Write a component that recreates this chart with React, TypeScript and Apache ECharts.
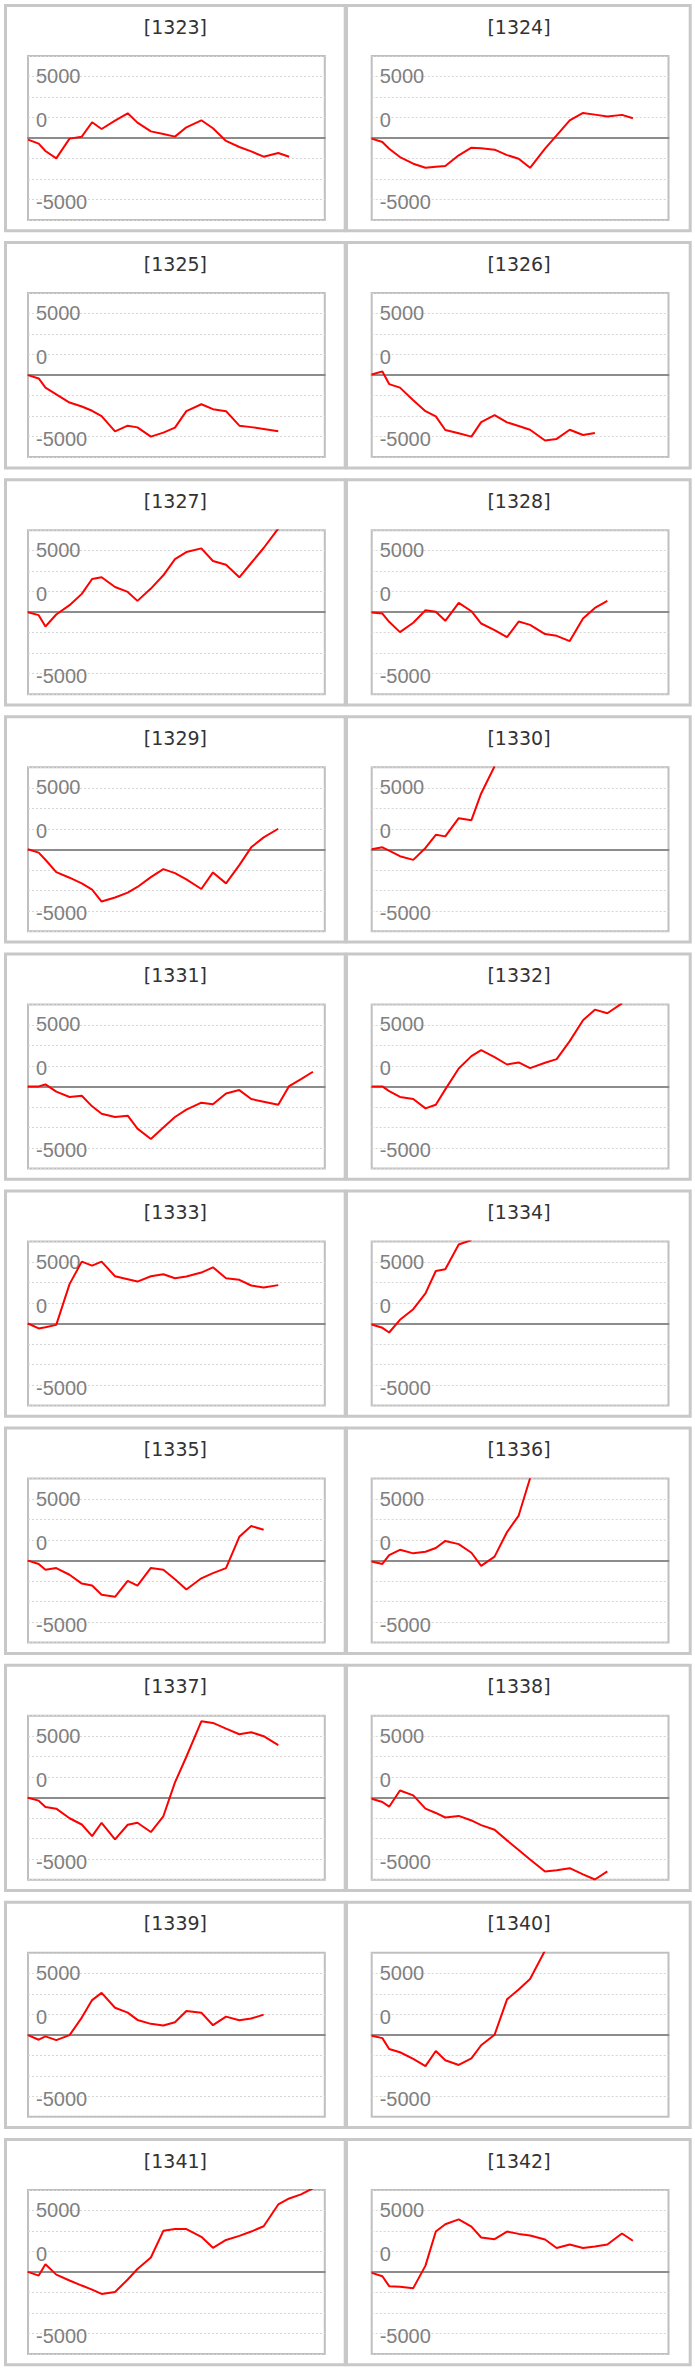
import React, { useEffect, useRef } from "react";
import * as echarts from "echarts";

// ---- data ----
const codes = [
  "1323", "1324", "1325", "1326", "1327", "1328", "1329", "1330", "1331", "1332",
  "1333", "1334", "1335", "1336", "1337", "1338", "1339", "1340", "1341", "1342",
];

// sample times (shared by every panel)
const sampleDays = [
  0, 0.9, 1.47, 2.38, 3.5, 4.53, 5.4, 6.2, 7.33, 8.4, 9.22, 10.35, 11.4, 12.38,
  13.34, 14.6, 15.58, 16.68, 17.8, 18.8, 19.85, 21.08, 22.0, 23.0, 24.0,
];

const v1323 = [-136, -460, -1060, -1660, -50, 110, 1280, 730, 1410, 2010, 1250, 540, 330, 110, 870, 1440, 790, -240, -730, -1090, -1520, -1220, -1520];
const v1324 = [-50, -330, -870, -1550, -2090, -2420, -2340, -2280, -1410, -790, -840, -950, -1390, -1690, -2420, -870, 220, 1440, 2040, 1900, 1740, 1880, 1600];
const v1325 = [0, -270, -1020, -1560, -2230, -2550, -2900, -3330, -4570, -4110, -4250, -5000, -4680, -4270, -2930, -2370, -2770, -2930, -4110, -4230, -4380, -4570];
const v1326 = [50, 300, -730, -1020, -2040, -2930, -3360, -4460, -4730, -5000, -3820, -3250, -3840, -4140, -4440, -5320, -5190, -4440, -4870, -4700];
const v1327 = [0, -240, -1160, -190, 570, 1490, 2700, 2840, 2050, 1650, 920, 1920, 3000, 4320, 4890, 5190, 4160, 3860, 2840, 4000, 5220, 6800];
const v1328 = [-30, -110, -780, -1620, -860, 160, 30, -700, 760, 80, -920, -1460, -2030, -760, -1030, -1780, -1920, -2350, -510, 350, 920];
const v1329 = [0, -270, -850, -1850, -2310, -2770, -3280, -4250, -3920, -3520, -3060, -2260, -1610, -1940, -2450, -3230, -1880, -2770, -1290, 160, 970, 1670];
const v1330 = [0, 160, -110, -560, -860, 110, 1180, 1050, 2530, 2370, 4540, 6750];
const v1331 = [0, 0, 160, -430, -860, -760, -1620, -2220, -2490, -2380, -3430, -4270, -3350, -2490, -1890, -1320, -1460, -570, -300, -1030, -1240, -1490, 30, 590, 1190];
const v1332 = [0, 0, -380, -860, -1030, -1790, -1490, -240, 1460, 2460, 2950, 2380, 1780, 1950, 1490, 1920, 2220, 3680, 5380, 6240, 5950, 6750];
const v1333 = [0, -400, -300, -110, 3200, 5030, 4700, 5030, 3840, 3600, 3410, 3840, 4000, 3680, 3820, 4140, 4570, 3680, 3550, 3090, 2930, 3120];
const v1334 = [-80, -350, -730, 300, 1160, 2450, 4270, 4410, 6420, 6780];
const v1335 = [0, -270, -750, -610, -1150, -1870, -2030, -2780, -2940, -1640, -2030, -600, -750, -1520, -2350, -1440, -1020, -610, 1930, 2810, 2510];
const v1336 = [-80, -270, 450, 880, 590, 720, 1020, 1600, 1340, 640, -430, 320, 2320, 3660, 6700];
const v1337 = [0, -240, -750, -890, -1670, -2180, -3120, -2040, -3390, -2200, -2040, -2790, -1510, 1240, 3330, 6210, 6080, 5620, 5160, 5320, 5000, 4270];
const v1338 = [-80, -350, -730, 590, 190, -890, -1240, -1610, -1480, -1850, -2230, -2610, -3470, -4250, -5030, -6000, -5890, -5730, -6240, -6650, -5990];
const v1339 = [-30, -400, -130, -430, -30, 1400, 2820, 3410, 2200, 1800, 1210, 890, 750, 1020, 1940, 1800, 780, 1480, 1180, 1320, 1640];
const v1340 = [-80, -270, -1160, -1420, -1960, -2550, -1320, -2070, -2450, -1910, -850, 0, 2880, 3680, 4540, 6850];
const v1341 = [0, -300, 620, -220, -700, -1110, -1440, -1790, -1630, -620, 240, 1170, 3340, 3480, 3480, 2850, 1960, 2600, 2930, 3280, 3710, 5480, 5970, 6300, 6800];
const v1342 = [-80, -350, -1160, -1210, -1320, 510, 3280, 3870, 4270, 3680, 2800, 2660, 3280, 3090, 2960, 2630, 1940, 2230, 1940, 2070, 2230, 3120, 2530];

const panelValues = [
  v1323, v1324, v1325, v1326, v1327, v1328, v1329, v1330, v1331, v1332,
  v1333, v1334, v1335, v1336, v1337, v1338, v1339, v1340, v1341, v1342,
];

// y axis: 8 equal steps, three of the ticks carry a label
const yStep = 5000 / 3;
const yMin = -4 * yStep;
const yMax = 4 * yStep;
const yTickValues = [-5000, yStep, 5000];
const yTickLabels = ["-5000", "0", "5000"];
const xMin = 0;
const xMax = 25;

// ---- layout ----
const ROW_PITCH = 237.1;
const PANEL_TOP = 4;
const PANEL_H = 228.3;
const PANEL_X = [4, 345];
const PANEL_W = [342.7, 346.7];
const GRID_X = [28, 371.7];
const GRID_W = 296.8;
const GRID_TOP = 56;
const GRID_H = 164;
const TITLE_X = [175.4, 519];
const TITLE_Y = 26.6;
const BORDER = 3;

function labelFor(value: number): string {
  for (let k = 0; k < yTickValues.length; k++) {
    if (Math.abs(value - yTickValues[k]) < 1) {
      const style = yTickLabels[k] === "5000" ? "hi" : "lo";
      return "{" + style + "|" + yTickLabels[k] + "}";
    }
  }
  return "";
}

function buildOption() {
  const grids: any[] = [];
  const xAxes: any[] = [];
  const yAxes: any[] = [];
  const series: any[] = [];
  const elements: any[] = [];
  const labelFont = {
    fontFamily: "Liberation Sans",
    fontSize: 20,
    color: "#808080",
  };

  codes.forEach((code, k) => {
    const row = Math.floor(k / 2);
    const col = k % 2;
    const oy = row * ROW_PITCH;

    elements.push({
      type: "rect",
      silent: true,
      shape: {
        x: PANEL_X[col] + BORDER / 2,
        y: oy + PANEL_TOP + BORDER / 2,
        width: PANEL_W[col] - BORDER,
        height: PANEL_H - BORDER,
      },
      style: { fill: "none", stroke: "#c8c8c8", lineWidth: BORDER },
    });
    elements.push({
      type: "text",
      silent: true,
      x: TITLE_X[col],
      y: oy + TITLE_Y,
      style: {
        text: "[" + code + "]",
        align: "center",
        verticalAlign: "middle",
        fontFamily: "DejaVu Sans",
        fontSize: 19,
        fill: "#333333",
      },
    });

    grids.push({
      left: GRID_X[col],
      top: oy + GRID_TOP,
      width: GRID_W,
      height: GRID_H,
      show: true,
      borderColor: "#bfbfbf",
      borderWidth: 2,
      backgroundColor: "transparent",
    });

    xAxes.push({
      type: "value",
      gridIndex: k,
      min: xMin,
      max: xMax,
      z: 1,
      axisLine: {
        show: true,
        onZero: true,
        lineStyle: { color: "#8c8c8c", width: 2 },
      },
      axisTick: { show: false },
      axisLabel: { show: false },
      splitLine: { show: false },
    });

    yAxes.push({
      type: "value",
      gridIndex: k,
      min: yMin,
      max: yMax,
      interval: yStep,
      z: 0,
      axisLine: { show: false },
      axisTick: { show: false },
      splitLine: {
        show: true,
        lineStyle: { color: "#d6d6d6", width: 1, type: [2, 2] },
      },
      axisLabel: {
        inside: true,
        margin: 8,
        verticalAlign: "middle",
        showMinLabel: true,
        showMaxLabel: true,
        ...labelFont,
        formatter: labelFor,
        rich: {
          hi: { ...labelFont, padding: [0, 0, 1, 0] },
          lo: { ...labelFont, padding: [5, 0, 0, 0] },
        },
      },
    });

    const vals = panelValues[k];
    series.push({
      type: "line",
      name: code,
      xAxisIndex: k,
      yAxisIndex: k,
      data: vals.map((v, i) => [sampleDays[i], v]),
      symbol: "none",
      showSymbol: false,
      clip: true,
      silent: true,
      z: 3,
      lineStyle: { color: "#ff0000", width: 2 },
      itemStyle: { color: "#ff0000" },
    });
  });

  return {
    animation: false,
    backgroundColor: "#ffffff",
    grid: grids,
    xAxis: xAxes,
    yAxis: yAxes,
    series,
    graphic: { elements },
  };
}

export default function App() {
  const ref = useRef<HTMLDivElement | null>(null);
  useEffect(() => {
    if (!ref.current) return;
    const chart = echarts.init(ref.current, undefined, { renderer: "svg" });
    chart.setOption(buildOption());
    return () => {
      chart.dispose();
    };
  }, []);
  return (
    <div
      ref={ref}
      style={{ position: "absolute", left: 0, top: 0, width: 695, height: 2372 }}
    />
  );
}
